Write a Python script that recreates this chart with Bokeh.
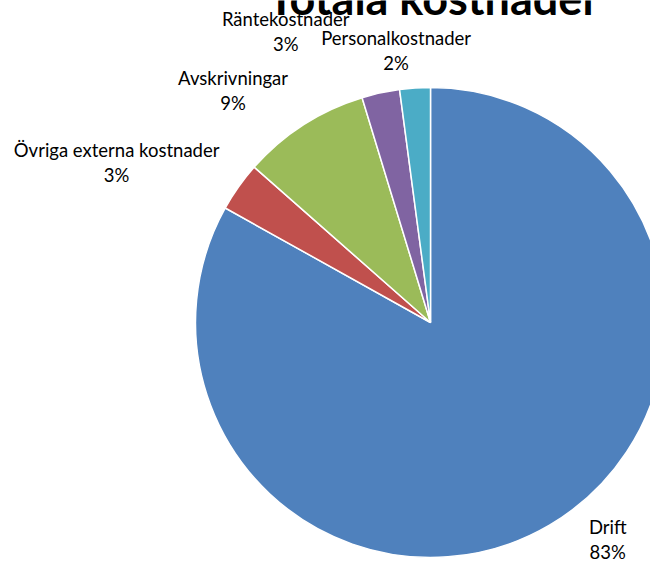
import math
from bokeh.plotting import figure
from bokeh.models import ColumnDataSource, Range1d
from bokeh.core.properties import value
from bokeh.embed import file_html
from bokeh.resources import INLINE

# ---- data ----
title = "Totala kostnader"
categories = ["Drift", "Övriga externa kostnader", "Avskrivningar", "Räntekostnader", "Personalkostnader"]
values = [83.1, 3.4, 8.8, 2.6, 2.1]
colors = ["#4F81BD", "#C0504D", "#9BBB59", "#8064A2", "#4BACC6"]

# ---- layout ----
W, H = 650, 562
R_PX = 235            # pie radius in px
CX, CY = 430, 322     # pie centre in canvas px (from top-left)
LABEL_R = 1.12
label_nudge = [(44, -10), (-99, -8), (-55, -11), (-89, -34), (-17, -9)]
HALF_GAP = 12.5
FONT = "Lato"

total = float(sum(values))
starts, ends, mids, pcts = [], [], [], []
cum = 0.0
for v in values:
    a0 = math.pi / 2 - 2 * math.pi * cum / total
    cum += v
    a1 = math.pi / 2 - 2 * math.pi * cum / total
    starts.append(a0)
    ends.append(a1)
    mids.append((a0 + a1) / 2)
    pcts.append(f"{round(100 * v / total)}%")

src = ColumnDataSource(dict(cat=categories, val=values, color=colors,
                            start=starts, end=ends))

p = figure(width=W, height=H,
           x_range=Range1d(-CX / R_PX, (W - CX) / R_PX),
           y_range=Range1d(-(H - CY) / R_PX, CY / R_PX),
           output_backend="svg", toolbar_location=None,
           x_axis_type=None, y_axis_type=None, min_border=0)
p.grid.visible = False
p.outline_line_color = None

p.wedge(x=0, y=0, radius=1, start_angle="start", end_angle="end",
        direction="clock", fill_color="color", line_color="white",
        line_width=1.5, source=src)

lx = [LABEL_R * math.cos(m) for m in mids]
ly = [LABEL_R * math.sin(m) for m in mids]
dx = [n[0] for n in label_nudge]
lab = ColumnDataSource(dict(x=lx, y=ly, name=categories, pct=pcts, dx=dx,
                            dy1=[n[1] - HALF_GAP for n in label_nudge],
                            dy2=[n[1] + HALF_GAP for n in label_nudge]))
common = dict(text_font=value(FONT), text_font_size="18.5px", text_color="#000000",
              text_align="center", text_baseline="middle", source=lab)
p.text(x="x", y="y", text="name", x_offset="dx", y_offset="dy1", **common)
p.text(x="x", y="y", text="pct", x_offset="dx", y_offset="dy2", **common)

# title (its top is cut off by the chart edge, as in the original)
p.text(x=[0], y=[CY / R_PX], text=[title], text_font=value(FONT),
       text_font_style="bold", text_font_size="45px", text_color="#000000",
       text_align="center", text_baseline="alphabetic", x_offset=3, y_offset=-3)

open("out.html", "w").write(file_html(p, INLINE))
